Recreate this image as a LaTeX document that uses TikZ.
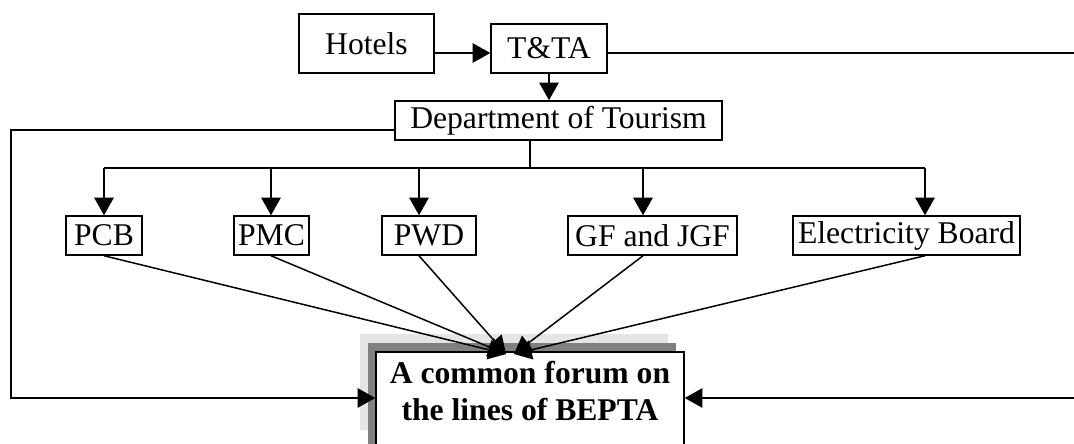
\documentclass[tikz,border=0pt]{standalone}
\usepackage{fontspec}
\setmainfont{Liberation Serif}
\usetikzlibrary{arrows.meta}
\definecolor{shadelight}{gray}{0.9}
\definecolor{shadedark}{gray}{0.5}
\tikzset{
  box/.style={draw, inner sep=0pt, minimum height=0.78cm, font=\fontsize{18}{21}\selectfont},
  arr/.style={-{Triangle[length=10pt,width=11pt]}},
}

\begin{document}
\begin{tikzpicture}[x=0.02cm, y=-0.02cm, line width=0.85pt]
\clip (0,0) rectangle (1074,443);
\node[box, minimum width=2.7cm, minimum height=1.18cm] (hotels) at (366.5,43.5) {Hotels};
\node[box, minimum width=2.32cm, minimum height=0.98cm] (tta) at (549,48.5) {T\&TA};
\node[box, minimum width=6.54cm] (dept) at (558.5,120.5) {Department of Tourism};
\node[box, minimum width=1.52cm] (pcb) at (104,235.5) {PCB};
\node[box, minimum width=1.5cm] (pmc) at (271.5,235.5) {PMC};
\node[box, minimum width=1.88cm] (pwd) at (429,235.5) {PWD};
\node[box, minimum width=3.38cm] (gf) at (652.5,235.5) {GF and JGF};
\node[box, minimum width=4.54cm] (eb) at (906.5,235.5) {Electricity Board};
% forum box with its shadow
\fill[shadelight] (360,334) rectangle (668,430);
\fill[shadedark] (368,343) rectangle (676,460);
\node[draw, fill=white, anchor=north, minimum width=6.16cm, minimum height=2.4cm] (forum) at (530,351) {};
\node[anchor=north, align=center, inner sep=0pt, font=\fontsize{18}{21.5}\selectfont\bfseries] (forumtext) at (530,360) {A common forum on\\the lines of BEPTA};

\coordinate (hrow) at (0,53);
\draw[arr] (hotels.east |- hrow) -- (tta.west |- hrow);
\draw[arr] (tta.south) -- (tta.south |- dept.north);
\coordinate (rtop) at (1090,53);
\coordinate (rbot) at (1090,398);
\draw[arr] (tta.east |- rtop) -- (rtop) -- (rbot) -- (rbot -| forum.east);
\coordinate (ltop) at (11,130);
\coordinate (lbot) at (11,398);
\draw[arr] (dept.west |- ltop) -- (ltop) -- (lbot) -- (lbot -| forum.west);

\coordinate (bus) at (530,168);
\draw (bus |- dept.south) -- (bus);
\coordinate (tipl) at (506,354);
\coordinate (tipr) at (514,354);
\foreach \n/\x/\t in {pcb/104/tipl, pmc/271/tipl, pwd/419/tipl, gf/643/tipr, eb/925/tipr}{
  \coordinate (drop-\n) at (\x,168);
  \draw[arr] (drop-\n) -- (drop-\n |- \n.north);
  \draw[arr] (drop-\n |- \n.south) -- (\t);
}
\draw (drop-pcb) -- (drop-eb);
\end{tikzpicture}
\end{document}
